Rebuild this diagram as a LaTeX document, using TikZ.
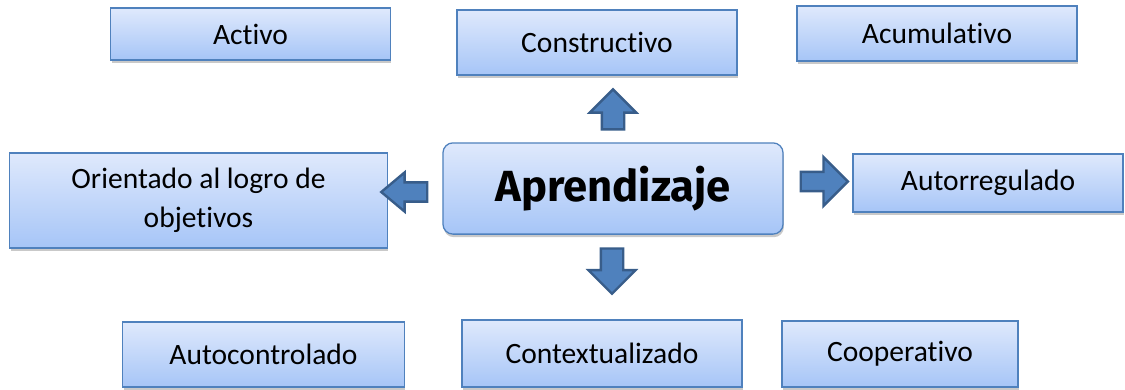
\documentclass[tikz,border=0pt]{standalone}
\usepackage{fontspec}
\setmainfont{Carlito}[Ligatures=NoCommon]
\newfontfamily\titlefont{Fira Sans}
\usetikzlibrary{shapes.arrows,shadows}
\definecolor{boxtop}{RGB}{223,233,252}
\definecolor{boxbot}{RGB}{166,197,247}
\definecolor{boxline}{RGB}{79,129,189}
\definecolor{arrfill}{RGB}{79,129,189}
\definecolor{arrline}{RGB}{56,93,138}

\begin{document}
\begin{tikzpicture}[
  x=0.025cm, y=-0.025cm,
  box/.style={rectangle, draw=boxline, line width=0.9pt, top color=boxtop, bottom color=boxbot, align=center, font=\fontsize{21}{28}\selectfont, drop shadow={shadow xshift=0.6pt, shadow yshift=-2.2pt, opacity=0.3, fill=black!70}},
  bigbox/.style={box, rounded corners=0.25cm, font=\titlefont\bfseries\fontsize{31}{36}\selectfont},
  blockarr/.style={single arrow, draw=arrline, fill=arrfill, line width=1.7pt, inner xsep=0pt, single arrow tip angle=90}
]
\useasboundingbox (0,0) rectangle (1125,389);

% Centre
\node[bigbox, minimum width=8.5cm, minimum height=2.28cm] (apr) at (613,188.5) {Aprendizaje};

% Top row
\node[box, minimum width=6.98cm, minimum height=1.3cm] (activo) at (250.5,34) {Activo};
\node[box, minimum width=7.0cm, minimum height=1.63cm] (cons) at (597,42.5) {Constructivo};
\node[box, minimum width=7.0cm, minimum height=1.38cm] (acum) at (937,33.5) {Acumulativo};

% Middle row
\node[box, minimum width=9.43cm, minimum height=2.38cm] (orient) at (198.5,200.5) {Orientado al logro de\\objetivos};
\node[box, minimum width=6.75cm, minimum height=1.45cm] (autor) at (988,183) {Autorregulado};

% Bottom row
\node[box, minimum width=7.03cm, minimum height=1.63cm] (autoc) at (263.5,354.5) {Autocontrolado};
\node[box, minimum width=7.0cm, minimum height=1.68cm] (contx) at (602,353.5) {Contextualizado};
\node[box, minimum width=5.9cm, minimum height=1.65cm] (coop) at (900,354) {Cooperativo};

% Block arrows
\node[blockarr, rotate=90, inner ysep=0.25cm, minimum height=1cm, single arrow head extend=0.3cm] (up) at (613,115) {};
\node[blockarr, rotate=-90, inner ysep=0.25cm, minimum height=1.13cm, single arrow head extend=0.31cm] (down) at (612,265.5) {};
\node[blockarr, rotate=180, inner ysep=0.21cm, minimum height=1.15cm, single arrow head extend=0.25cm, single arrow tip angle=80] (left) at (410,192) {};
\node[blockarr, inner ysep=0.21cm, minimum height=1.18cm, single arrow head extend=0.37cm] (right) at (819.5,181.5) {};

\end{tikzpicture}
\end{document}
